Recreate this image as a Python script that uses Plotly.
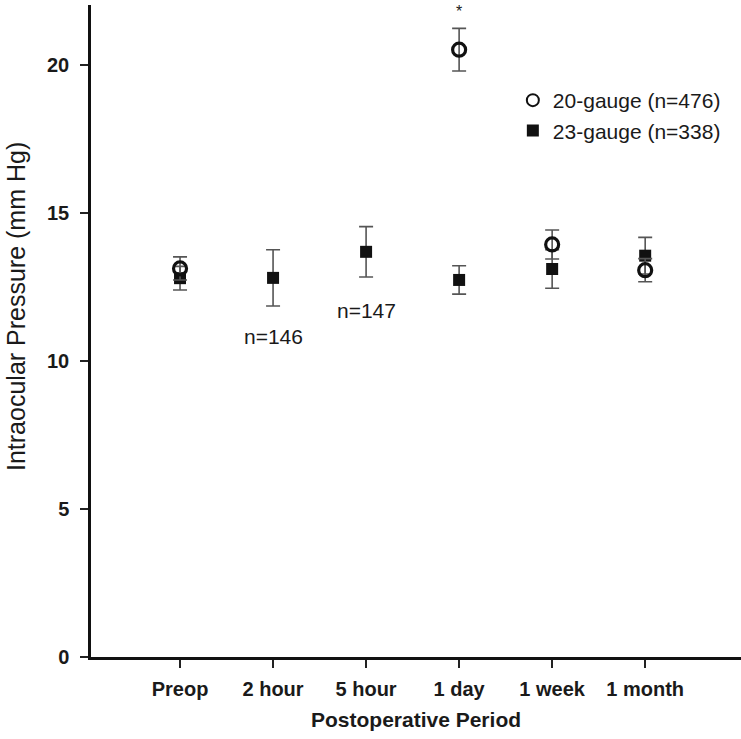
import plotly.graph_objects as go

categories = ["Preop", "2 hour", "5 hour", "1 day", "1 week", "1 month"]

g20_x = ["Preop", "1 day", "1 week", "1 month"]
g20_mean = [13.13, 20.52, 13.94, 13.07]
g20_err = [0.39, 0.72, 0.49, 0.39]

g23_x = ["Preop", "2 hour", "5 hour", "1 day", "1 week", "1 month"]
g23_mean = [12.80, 12.81, 13.69, 12.74, 13.11, 13.56]
g23_err = [0.40, 0.95, 0.85, 0.48, 0.65, 0.62]

y_ticks = [0, 5, 10, 15, 20]

notes = [("2 hour", 10.84, "n=146", 21), ("5 hour", 11.72, "n=147", 21), ("1 day", 21.80, "*", 16)]

FONT = "Liberation Sans, Arial, sans-serif"
TXT = "#1a1a1a"
idx = {c: i for i, c in enumerate(categories)}

fig = go.Figure()
fig.add_trace(go.Scatter(
    x=[idx[c] for c in g23_x], y=g23_mean, mode="markers",
    name="23-gauge (n=338)",
    marker=dict(symbol="square", size=12, color="#111111", line=dict(width=0)),
    error_y=dict(type="data", array=g23_err, visible=True, color="#555555", thickness=1.6, width=7),
))
fig.add_trace(go.Scatter(
    x=[idx[c] for c in g20_x], y=g20_mean, mode="markers",
    name="20-gauge (n=476)",
    marker=dict(symbol="circle-open", size=13, color="#111111", line=dict(width=3.2, color="#111111")),
    error_y=dict(type="data", array=g20_err, visible=True, color="#555555", thickness=1.6, width=7),
))

for c, yv, t, fs in notes:
    fig.add_annotation(x=idx[c], y=yv, text=t, showarrow=False,
                       font=dict(family=FONT, size=fs, color=TXT))

fig.add_annotation(xref="paper", yref="paper", x=(16 - 91) / 650, y=(657 - 307) / 652,
                   text="Intraocular Pressure (mm Hg)", textangle=-90, showarrow=False,
                   xanchor="center", yanchor="middle",
                   font=dict(family=FONT, size=25, color=TXT))

fig.update_layout(
    width=741, height=739,
    margin=dict(l=91, r=0, t=5, b=82),
    paper_bgcolor="white", plot_bgcolor="white",
    showlegend=True,
    legend=dict(x=0.649, y=0.885, xanchor="left", yanchor="top",
                font=dict(family=FONT, size=21, color=TXT),
                traceorder="reversed", bgcolor="rgba(0,0,0,0)", itemsizing="constant",
                tracegroupgap=0),
    font=dict(family=FONT, color=TXT),
)
fig.update_xaxes(
    range=[-0.957, 6.03], tickmode="array", tickvals=list(range(len(categories))), ticktext=categories,
    showline=True, linecolor="#111111", linewidth=2.5, ticks="outside", ticklen=8, tickwidth=2,
    tickcolor="#222222", showgrid=False, zeroline=False, ticklabelstandoff=4,
    tickfont=dict(family=FONT, size=20, weight="bold", color=TXT),
    title=dict(text="Postoperative Period", font=dict(family=FONT, size=21, weight="bold", color=TXT), standoff=14),
)
fig.update_yaxes(
    range=[0, 22.03], tickvals=y_ticks, showline=True, linecolor="#111111", linewidth=2.5,
    ticks="outside", ticklen=8, tickwidth=2, tickcolor="#222222", showgrid=False, zeroline=False,
    ticklabelstandoff=7,
    tickfont=dict(family=FONT, size=20, weight="bold", color=TXT),
)

fig.write_html("out.html", config={"displayModeBar": False},
               post_script="document.body.style.margin='0';")
